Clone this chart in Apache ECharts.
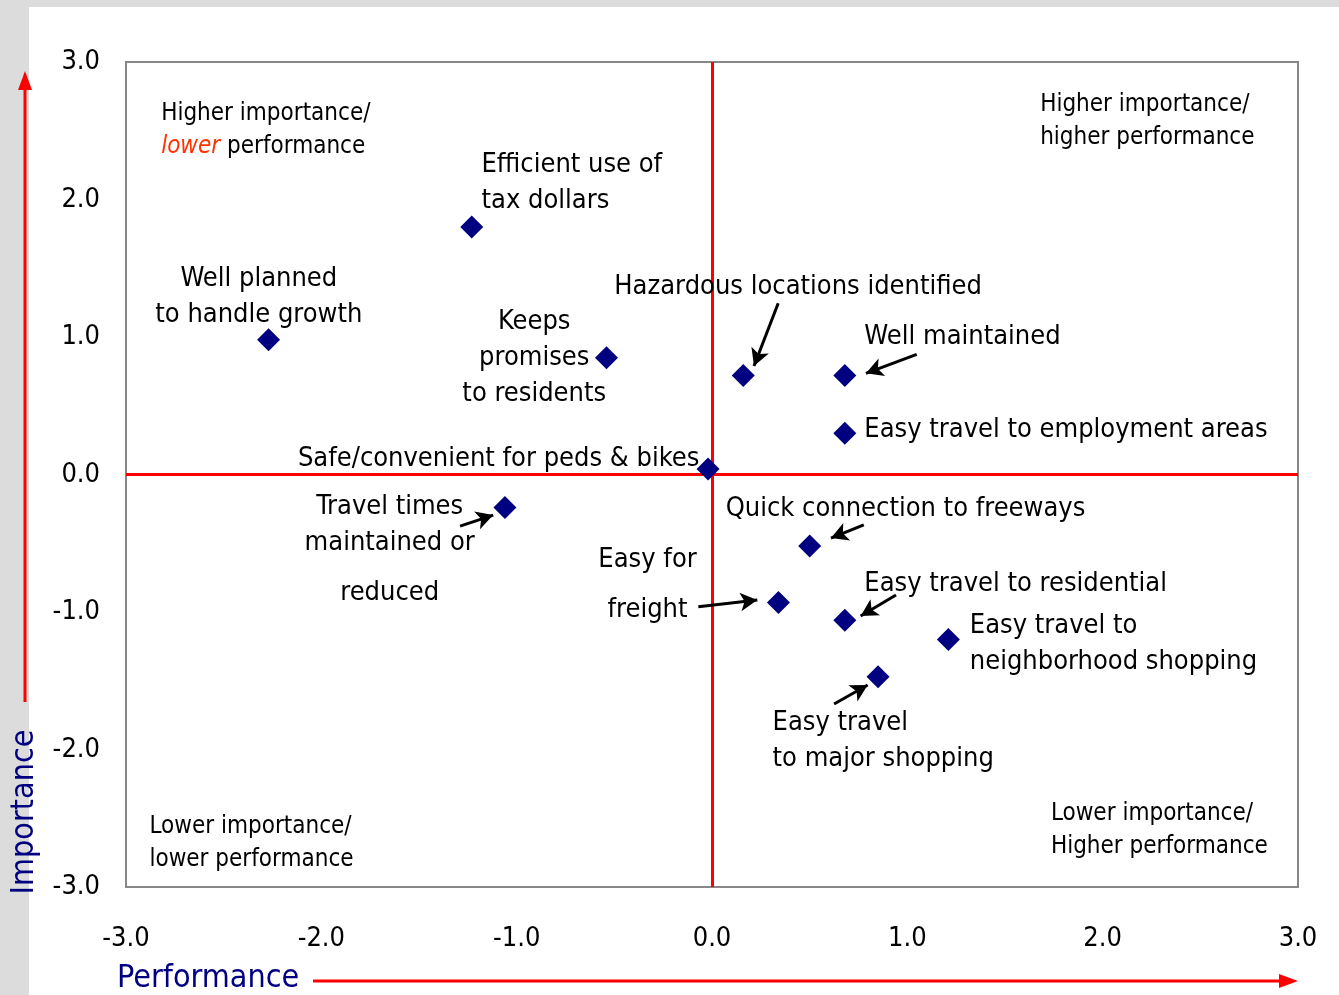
<!DOCTYPE html>
<html>
<head>
<meta charset="utf-8">
<script src="https://cdn.jsdelivr.net/npm/echarts@6/dist/echarts.min.js"></script>
<style>
    html, body { margin: 0; padding: 0; background: #dcdcdc; }
    #chart { width: 1339px; height: 995px; }
</style>
</head>
<body>
<div id="chart"></div>
<script>
    // 各项指标：表现 (x) 与重要性 (y)
    var names = [
        'Efficient use of tax dollars', 'Well planned to handle growth', 'Keeps promises to residents',
        'Hazardous locations identified', 'Well maintained', 'Easy travel to employment areas',
        'Safe/convenient for peds & bikes', 'Travel times maintained or reduced', 'Quick connection to freeways',
        'Easy for freight', 'Easy travel to residential', 'Easy travel to neighborhood shopping',
        'Easy travel to major shopping'
    ];
    var performance = [-1.23, -2.27, -0.54, 0.16, 0.68, 0.68, -0.02, -1.06, 0.50, 0.34, 0.68, 1.21, 0.85];
    var importance = [1.80, 0.98, 0.85, 0.72, 0.72, 0.30, 0.04, -0.24, -0.52, -0.93, -1.06, -1.20, -1.47];
    var ticks = [-3, -2, -1, 0, 1, 2, 3];

    // 标注文字：[文字, x, y(首行中心), 对齐, 字号]
    var notes = [
        ['Efficient use of\ntax dollars', -1.18, 2.265, 'left', 27],
        ['Well planned\nto handle growth', -2.32, 1.436, 'center', 27],
        ['Keeps\npromises\nto residents', -0.91, 1.124, 'center', 27],
        ['Hazardous locations identified', -0.50, 1.378, 'left', 27],
        ['Well maintained', 0.78, 1.015, 'left', 27],
        ['Easy travel to employment areas', 0.78, 0.338, 'left', 27],
        ['Safe/convenient for peds & bikes', -2.12, 0.127, 'left', 27],
        ['Travel times\nmaintained or', -1.65, -0.222, 'center', 27],
        ['reduced', -1.65, -0.847, 'center', 27],
        ['Quick connection to freeways', 0.07, -0.236, 'left', 27],
        ['Easy for', -0.33, -0.607, 'center', 27],
        ['freight', -0.33, -0.971, 'center', 27],
        ['Easy travel to residential', 0.78, -0.782, 'left', 27],
        ['Easy travel to\nneighborhood shopping', 1.32, -1.087, 'left', 27],
        ['Easy travel\nto major shopping', 0.31, -1.793, 'left', 27],
        ['Higher importance/\n{i|lower} performance', -2.82, 2.636, 'left', 24],
        ['Higher importance/\nhigher performance', 1.68, 2.702, 'left', 24],
        ['Lower importance/\nlower performance', -2.88, -2.549, 'left', 24],
        ['Lower importance/\nHigher performance', 1.735, -2.455, 'left', 24]
    ];

    // 指示箭头：[起点x, 起点y, 终点x, 终点y]
    var arrows = [
        [0.339, 1.245, 0.215, 0.789],
        [1.048, 0.874, 0.788, 0.736],
        [-1.290, -0.375, -1.120, -0.295],
        [0.777, -0.367, 0.609, -0.462],
        [-0.070, -0.961, 0.232, -0.913],
        [0.942, -0.876, 0.761, -1.029],
        [0.625, -1.669, 0.797, -1.531]
    ];

    var FONT = '"Liberation Sans Narrow", "Arial Narrow", "DejaVu Sans Condensed", sans-serif';

    var chart = echarts.init(document.getElementById('chart'));

    var points = performance.map(function (x, i) {
        return { name: names[i], value: [x, importance[i]] };
    });

    var arrowLines = arrows.map(function (a) {
        return [{ coord: [a[0], a[1]] }, { coord: [a[2], a[3]] }];
    });

    function fmt(v) { return v.toFixed(1); }

    chart.setOption({
        animation: false,
        backgroundColor: '#dcdcdc',
        grid: {
            left: 126, right: 41, top: 62, bottom: 108,
            show: true, backgroundColor: '#fff', borderColor: '#888', borderWidth: 2
        },
        xAxis: {
            type: 'value', min: ticks[0], max: ticks[ticks.length - 1], interval: 1,
            axisLine: { show: false }, axisTick: { show: false }, splitLine: { show: false },
            axisLabel: { formatter: fmt, fontSize: 27, color: '#000', fontFamily: FONT, margin: 38 }
        },
        yAxis: {
            type: 'value', min: ticks[0], max: ticks[ticks.length - 1], interval: 1,
            axisLine: { show: false }, axisTick: { show: false }, splitLine: { show: false },
            axisLabel: { formatter: fmt, fontSize: 27, color: '#000', fontFamily: FONT, margin: 26 }
        },
        series: [
            {
                type: 'scatter',
                symbol: 'diamond',
                symbolSize: 23,
                itemStyle: { color: '#000080', opacity: 1 },
                data: points,
                z: 5,
                markLine: {
                    silent: true,
                    symbol: 'none',
                    label: { show: false },
                    lineStyle: { color: '#ff0000', width: 3, type: 'solid', opacity: 1 },
                    data: [{ xAxis: 0 }, { yAxis: 0 }],
                    z: 3
                }
            },
            {
                type: 'scatter',
                data: [],
                markLine: {
                    silent: true,
                    symbol: ['none', 'arrow'],
                    symbolSize: [14, 17],
                    label: { show: false },
                    lineStyle: { color: '#000', width: 3, type: 'solid', opacity: 1 },
                    data: arrowLines
                }
            }
        ]
    });

    // 背景与坐标轴外的红色箭头、轴名
    var graphics = [
        { type: 'rect', shape: { x: 29, y: 7, width: 1310, height: 988 }, style: { fill: '#fff' }, z: -10 },
        { type: 'line', shape: { x1: 25, y1: 702, x2: 25, y2: 88 }, style: { stroke: '#ff0000', lineWidth: 3 } },
        { type: 'polygon', shape: { points: [[25, 71], [18, 90], [32, 90]] }, style: { fill: '#ff0000' } },
        { type: 'line', shape: { x1: 313, y1: 981, x2: 1282, y2: 981 }, style: { stroke: '#ff0000', lineWidth: 3 } },
        { type: 'polygon', shape: { points: [[1298, 981], [1279, 974], [1279, 988]] }, style: { fill: '#ff0000' } },
        {
            type: 'text', x: 25, y: 812, rotation: Math.PI / 2,
            style: { text: 'Importance', font: '32px ' + FONT, fill: '#000080', align: 'center', verticalAlign: 'middle' }
        },
        {
            type: 'text', x: 117, y: 979,
            style: { text: 'Performance', font: '32px ' + FONT, fill: '#000080', align: 'left', verticalAlign: 'middle' }
        }
    ];

    notes.forEach(function (n) {
        var p = chart.convertToPixel({ gridIndex: 0 }, [n[1], n[2]]);
        var lh = n[4] === 24 ? 33 : 36;
        graphics.push({
            type: 'text', x: p[0], y: p[1] - lh / 2 + 2, z: 10,
            style: {
                text: n[0], font: n[4] + 'px ' + FONT, fill: '#000',
                align: n[3], verticalAlign: 'top', lineHeight: lh,
                rich: {
                    i: { fontStyle: 'italic', fill: '#ff3300', fontSize: n[4], fontFamily: FONT, lineHeight: lh }
                }
            }
        });
    });

    chart.setOption({ graphic: graphics });
</script>
</body>
</html>
